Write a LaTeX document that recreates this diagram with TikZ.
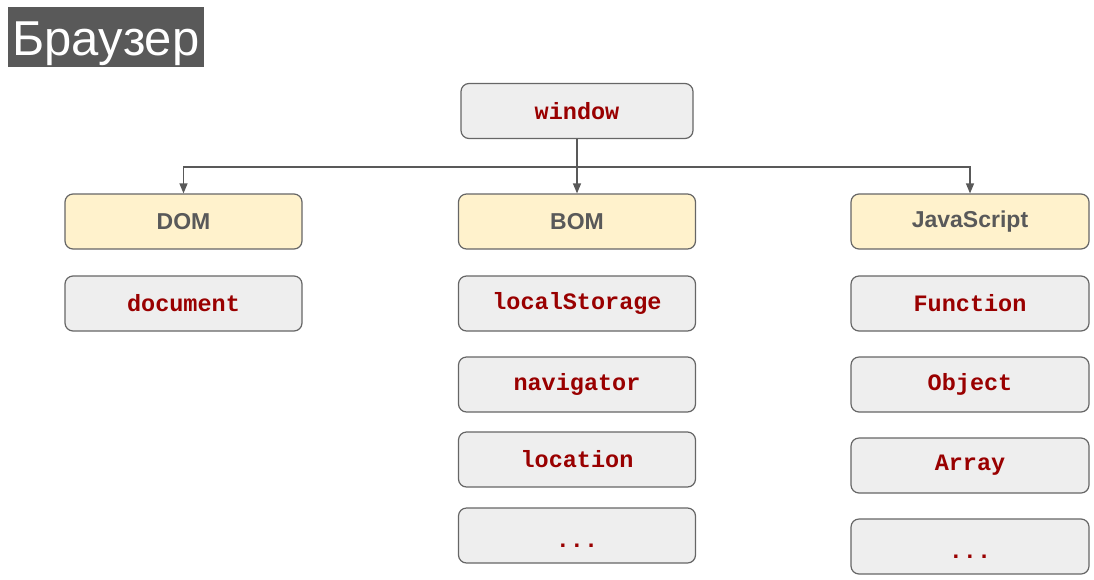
\documentclass[tikz,border=0pt]{standalone}
\usepackage{fontspec}
\setmainfont{Liberation Sans}
\newfontfamily\codefont{Liberation Mono}
\usetikzlibrary{arrows.meta}
\definecolor{boxgray}{HTML}{EEEEEE}
\definecolor{boxline}{HTML}{666666}
\definecolor{boxyellow}{HTML}{FFF2CC}
\definecolor{codered}{HTML}{990000}
\definecolor{headgray}{HTML}{595959}
\definecolor{titlegray}{HTML}{595959}
\definecolor{conngray}{HTML}{595959}
\newcommand{\lowdots}{\raisebox{-2pt}{...}}
\tikzset{
  basebox/.style={draw=boxline, line width=1.2pt, rounded corners=8pt, inner sep=0pt,
    minimum width=237pt, minimum height=55pt},
  codebox/.style={basebox, fill=boxgray, text=codered,
    font=\codefont\bfseries\fontsize{23.5}{27}\selectfont},
  headbox/.style={basebox, fill=boxyellow, text=headgray,
    font=\bfseries\fontsize{23}{27}\selectfont},
  conn/.style={draw=conngray, line width=1.2pt, -{Triangle[length=10pt,width=8pt]}},
  titlebox/.style={fill=titlegray, text=white, inner sep=0pt, minimum width=196pt,
    minimum height=60pt, text height=40pt, text depth=4pt,
    font=\fontsize{49}{55}\selectfont}
}
\begin{document}
\begin{tikzpicture}[x=1pt,y=-1pt]
\useasboundingbox (0,0) rectangle (1094,579);
\node[titlebox] (title) at (106,37) {Браузер};

\node[codebox, minimum width=232pt] (window) at (577,111) {window};

\node[headbox] (dom) at (183.5,221.5) {DOM};
\node[headbox] (bom) at (577,221.5) {BOM};
\node[headbox, minimum width=238pt] (js) at (970,221.5) {JavaScript};

\node[codebox] (document) at (183.5,303.5) {document};

\node[codebox] (localstorage) at (577,303.5) {localStorage};
\node[codebox] (navigator) at (577,384.5) {navigator};
\node[codebox] (location) at (577,459.5) {location};
\node[codebox, text height=27pt, text depth=8pt] (bomdots) at (577,535.5) {\lowdots};

\node[codebox, minimum width=238pt] (function) at (970,303.5) {Function};
\node[codebox, minimum width=238pt] (object) at (970,384.5) {Object};
\node[codebox, minimum width=238pt] (array) at (970,465.5) {Array};
\node[codebox, minimum width=238pt, text height=27pt, text depth=8pt] (jsdots) at (970,546.5) {\lowdots};

\coordinate (hub) at (window.south |- 0,167);
\draw[conn] (window.south) -- (bom.north);
\draw[conn] (hub) -| (dom.north);
\draw[conn] (hub) -| (js.north);
\end{tikzpicture}
\end{document}
